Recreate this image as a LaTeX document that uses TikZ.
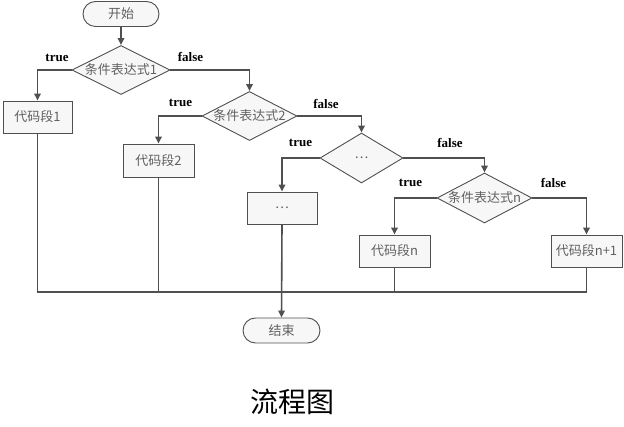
\documentclass[tikz,border=0pt]{standalone}
\usepackage{fontspec}
\setmainfont{Liberation Serif}
\newfontfamily\cjk{Noto Sans CJK SC}
\usetikzlibrary{shapes.geometric,arrows.meta}
\definecolor{lnc}{HTML}{505050}
\definecolor{fillg}{HTML}{F7F7F7}
\definecolor{txtc}{HTML}{606060}
\begin{document}
\begin{tikzpicture}[x=1pt,y=-1pt,
  nodetext/.style={font=\cjk\fontsize{13}{15}\selectfont, text=txtc},
  box/.style={draw=lnc, fill=fillg, line width=0.9pt, minimum width=70pt, minimum height=32pt, inner sep=0pt, nodetext},
  term/.style={draw=lnc, fill=fillg, line width=0.9pt, rounded corners=12.5pt, minimum width=76pt, minimum height=25pt, inner sep=0pt, nodetext},
  dec/.style={diamond, draw=lnc, fill=fillg, line width=0.9pt, inner sep=0pt, minimum width=96pt, minimum height=49pt},
  dectext/.style={label={[nodetext, inner sep=0pt]center:#1}},
  conn/.style={draw=lnc, line width=1.6pt},
  arr/.style={conn, -{Triangle[width=6.5pt,length=7pt]}},
  lab/.style={font=\bfseries\fontsize{13}{15}\selectfont, inner sep=0pt}
]
\useasboundingbox[fill=white] (0,0) rectangle (624,427);

\node[term] (s) at (121,14) {开始};
\node[dec, dectext={条件表达式1}, minimum width=98pt] (d1) at (121,70) {};
\node[box, minimum width=69pt] (b1) at (37.5,117) {代码段1};
\node[dec, dectext={条件表达式2}, minimum width=95pt] (d2) at (249.5,116) {};
\node[box, minimum width=71pt, minimum height=33pt] (b2) at (158.5,160.5) {代码段2};
\node[dec, dectext={…}, minimum width=83pt, minimum height=50pt] (d3) at (361.5,158) {};
\node[box, minimum width=70pt] (b3) at (282,208) {…};
\node[dec, dectext={条件表达式n}, minimum width=95pt, minimum height=50pt] (dn) at (484.5,198) {};
\node[box, minimum width=71pt] (bn) at (394.5,251) {代码段n};
\node[box, minimum width=71pt] (bm) at (586.5,251) {代码段n+1};
\node[term, minimum width=77pt] (e) at (281.5,330.5) {结束};

\node[lab] (t1) at (57,58) {true};
\node[lab] (f1) at (190.5,57) {false};
\node[lab] (t2) at (180.5,103) {true};
\node[lab] (f2) at (326,104) {false};
\node[lab] (t3) at (300.5,143) {true};
\node[lab] (f3) at (450,143) {false};
\node[lab] (tn) at (410.5,183) {true};
\node[lab] (fn) at (553.5,183) {false};

\draw[arr] (s.south) -- (d1.north);
\draw[arr] (d1.west) -| (b1.north);
\draw[arr] (d1.east) -| (d2.north);
\draw[arr] (d2.west) -| (b2.north);
\draw[arr] (d2.east) -| (d3.north);
\draw[arr] (d3.west) -| (b3.north);
\draw[arr] (d3.east) -| (dn.north);
\draw[arr] (dn.west) -| (bn.north);
\draw[arr] (dn.east) -| (bm.north);

\coordinate (m) at (282,292);
\draw[conn] (b1.south) -- (b1.south |- m) -- (bm.south |- m) -- (bm.south);
\draw[conn] (b2.south) -- (b2.south |- m);
\draw[conn] (bn.south) -- (bn.south |- m);
\draw[arr] (b3.south) -- (e.north);

\node[font=\cjk\fontsize{28}{32}\selectfont, inner sep=0pt] (cap) at (292,402) {流程图};
\end{tikzpicture}
\end{document}
